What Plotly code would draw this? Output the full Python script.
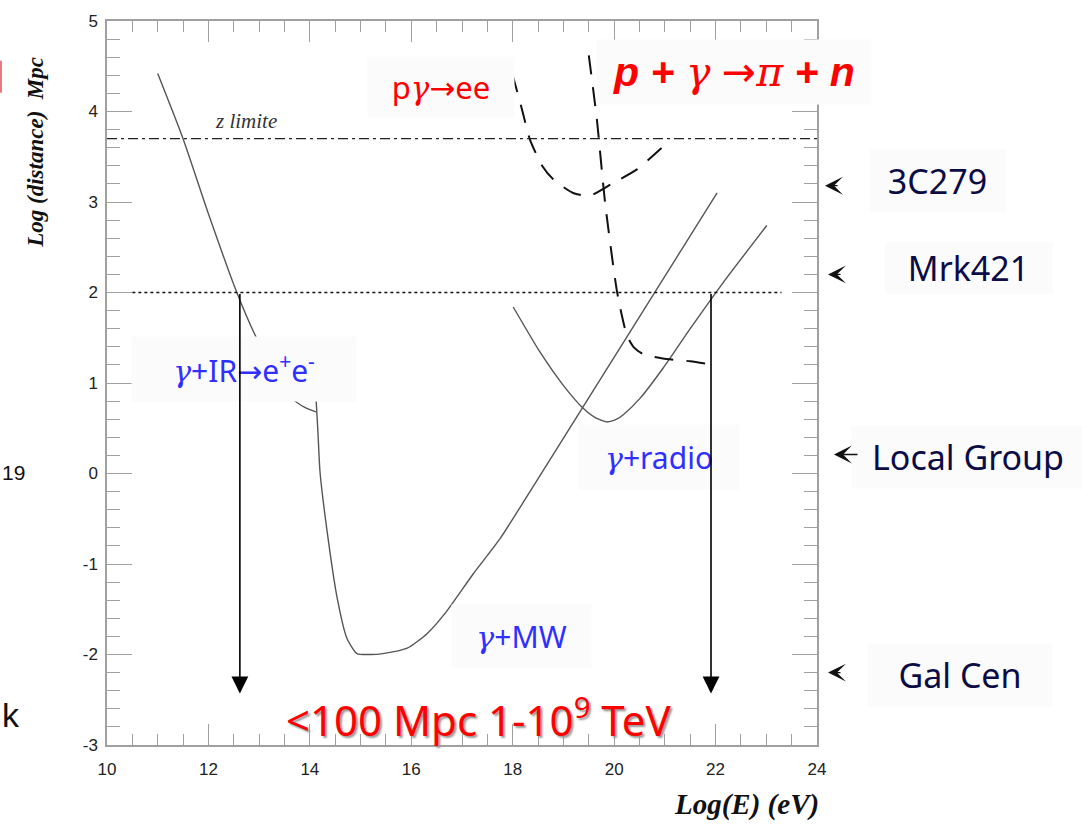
import plotly.graph_objects as go

# --- attenuation curves: log10(E/eV) vs log10(distance/Mpc) ---
ir_x = [11.0, 11.5, 12.0, 12.56, 12.92, 13.3, 13.65, 13.9, 14.12]
ir_y = [4.42, 3.70, 2.87, 2.0, 1.53, 1.13, 0.83, 0.73, 0.68]

mw_x = [14.12, 14.16, 14.20, 14.36, 14.54, 14.73, 14.93, 15.2, 15.44, 15.92, 16.31, 16.70, 17.22, 17.75, 18.34, 22.03]
mw_y = [0.85, 0.45, 0.02, -0.72, -1.38, -1.82, -1.99, -2.0, -1.99, -1.93, -1.77, -1.52, -1.11, -0.72, -0.20, 3.10]

radio_x = [18.01, 18.54, 18.99, 19.39, 19.62, 19.86, 20.05, 20.18, 20.51, 20.96, 21.50, 22.15, 23.01]
radio_y = [1.84, 1.34, 0.98, 0.72, 0.62, 0.57, 0.60, 0.65, 0.83, 1.16, 1.60, 2.11, 2.74]

ee_x = [17.99, 18.17, 18.34, 18.58, 18.80, 19.19, 19.52, 19.98, 20.45, 21.04]
ee_y = [4.42, 4.05, 3.69, 3.40, 3.25, 3.10, 3.07, 3.21, 3.36, 3.65]

pion_x = [19.50, 19.66, 19.82, 20.06, 20.25, 20.38, 20.57, 20.96, 21.50, 21.95]
pion_y = [4.62, 3.91, 3.0, 2.0, 1.53, 1.40, 1.32, 1.27, 1.24, 1.20]

z_limit = 3.7
horizon_100mpc = 2.0
horizon_x = [10.5, 23.3]
cutoff_energies = [12.62, 21.91]
arrow_bottom = -2.43

# distance markers on the right-hand side
sources = ["3C279", "Mrk421", "Local Group", "Gal Cen"]
source_logd = [3.18, 2.20, 0.21, -2.20]
source_label_logd = [3.23, 2.27, 0.18, -2.23]

x_ticks = [10, 12, 14, 16, 18, 20, 22, 24]
y_ticks = [-3, -2, -1, 0, 1, 2, 3, 4, 5]
y_tick_text = ["-3", "-2", "-1", "0", "1", "2", "3", "4", "5"]

CURVE = "#555555"
AXIS = "#a0a0a0"
RED = "#ff0000"
BLUE = "#2f2fff"
NAVY = "#0b0b45"
BOX = "#fbfbfb"
LABEL_FONT = "Noto Sans"

fig = go.Figure()

for xs, ys in [(ir_x, ir_y), (mw_x, mw_y), (radio_x, radio_y)]:
    fig.add_trace(go.Scatter(x=xs, y=ys, mode="lines", line=dict(color=CURVE, width=1.4, shape="spline", smoothing=0.6),
                             hoverinfo="skip", showlegend=False))

for xs, ys in [(ee_x, ee_y), (pion_x, pion_y)]:
    fig.add_trace(go.Scatter(x=xs, y=ys, mode="lines",
                             line=dict(color="#111111", width=2, dash="19px,13px", shape="spline", smoothing=0.6),
                             hoverinfo="skip", showlegend=False))

# redshift limit (dash-dot) and 100 Mpc horizon (dotted)
fig.add_trace(go.Scatter(x=[10, 24], y=[z_limit, z_limit], mode="lines",
                         line=dict(color="#222222", width=1.3, dash="10px,4px,3px,4px"),
                         hoverinfo="skip", showlegend=False))
fig.add_trace(go.Scatter(x=horizon_x, y=[horizon_100mpc, horizon_100mpc], mode="lines",
                         line=dict(color="#111111", width=1.5, dash="dot"),
                         hoverinfo="skip", showlegend=False))

ann = []

def label(text, x, y, size, color, w, h, family=LABEL_FONT, bg=BOX, font_extra=None, xref="x", **kw):
    font = dict(family=family, size=size, color=color)
    font.update(font_extra or {})
    ann.append(dict(text=text, x=x, y=y, xref=xref, yref="y", showarrow=False,
                    xanchor="center", yanchor="middle",
                    font=font, bgcolor=bg, width=w, height=h, align="center", valign="middle", **kw))

GREEK = "font-family:'DejaVu Serif';font-style:italic"
ARROW = "<span style=\"font-family:'DejaVu Sans'\">→</span>"

label("z limite", 12.74, 3.90, 21, "#333333", None, None,
      family="Liberation Serif", bg="rgba(0,0,0,0)", font_extra=dict(style="italic"))
label("p<span style=\"%s\">γ</span>%see" % (GREEK, ARROW), 16.58, 4.27, 31, RED, 144, 58)
label("<b><i>p + </i></b><span style=\"%s\">γ</span> %s<span style=\"%s\">π</span><b><i> + n</i></b>" % (GREEK, ARROW, GREEK),
      22.36, 4.44, 41, RED, 272, 62, family="Liberation Sans")
label("<span style=\"%s\">γ</span>+IR%se<sup>+</sup>e<sup>-</sup>" % (GREEK, ARROW), 12.70, 1.16, 30, BLUE, 222, 62)
label("<span style=\"%s\">γ</span>+radio" % GREEK, 20.88, 0.18, 30, BLUE, 158, 62)
label("<span style=\"%s\">γ</span>+MW" % GREEK, 18.18, -1.80, 30, BLUE, 137, 60)
label("&lt;100 Mpc 1-10<sup>9</sup> TeV", 17.32, -2.70, 42, RED, None, None, bg="rgba(0,0,0,0)",
      font_extra=dict(shadow="2px 2px 2px #9a9a9a"))

# right-hand distance scale labels (x in paper units, outside the plot)
src_label_x = [1.1704, 1.2127, 1.2127, 1.2014]
src_box = [(133, 60), (165, 50), (230, 60), (182, 60)]
for name, lx, ly, (bw, bh) in zip(sources, src_label_x, source_label_logd, src_box):
    label(name, lx, ly, 34, NAVY, bw, bh, xref="paper")

# arrowheads pointing at the distance scale
src_tip_x = [1.0113, 1.0155, 1.0239, 1.0155]
for name, tx, ly in zip(sources, src_tip_x, source_logd):
    tail_px = 25 if name == "Local Group" else 14
    ann.append(dict(x=tx, y=ly, ax=tail_px, ay=0, xref="paper", yref="y",
                    text="", showarrow=True, arrowhead=3, arrowsize=2.3, arrowwidth=1.3,
                    arrowcolor="#111111"))

# energy cut-offs at 100 Mpc
for ex in cutoff_energies:
    ann.append(dict(x=ex, y=arrow_bottom, ax=ex, ay=horizon_100mpc, xref="x", yref="y",
                    axref="x", ayref="y", text="", showarrow=True, arrowhead=2,
                    arrowsize=2.1, arrowwidth=1.6, arrowcolor="#000000"))

# axis titles and clipped fragments at the left edge
ann.append(dict(text="<b><i>Log (distance)  Mpc</i></b>", xref="paper", yref="paper",
                x=-0.1000, y=0.818, xanchor="center", yanchor="middle", textangle=-90, showarrow=False,
                font=dict(family="Liberation Serif", size=23, color="#111111")))
ann.append(dict(text="<b><i>Log(E) (eV)</i></b>", xref="paper", yref="paper",
                x=1.005, y=-0.082, xanchor="right", yanchor="middle", showarrow=False,
                font=dict(family="Liberation Serif", size=29, color="#111111")))
ann.append(dict(text="19", xref="paper", yref="paper", x=-0.1507, y=0.376, xanchor="left", yanchor="middle",
                showarrow=False, font=dict(family="Liberation Sans", size=21, color="#111111")))
ann.append(dict(text="k", xref="paper", yref="paper", x=-0.1507, y=0.042, xanchor="left", yanchor="middle",
                showarrow=False, font=dict(family="Liberation Sans", size=34, color="#111111")))

fig.update_layout(
    width=1082, height=825,
    margin=dict(l=107, r=265, t=18, b=80, pad=0),
    paper_bgcolor="white", plot_bgcolor="white",
    annotations=ann,
    shapes=[dict(type="rect", xref="paper", yref="paper", x0=-0.1507, x1=-0.1479,
                 y0=0.901, y1=0.945, fillcolor="#ee7777", line=dict(width=0))],
)

tickfont = dict(family="Liberation Sans", size=17, color="#222222")
fig.update_xaxes(range=[10, 24], tickvals=x_ticks, ticks="inside", ticklen=21, tickwidth=1.2,
                 tickcolor=AXIS, showline=True, linecolor=AXIS, linewidth=1.5, mirror="ticks",
                 showgrid=False, zeroline=False, tickfont=tickfont, ticklabelstandoff=8,
                 minor=dict(dtick=0.5, ticks="inside", ticklen=11, tickcolor=AXIS, tickwidth=1.2, showgrid=False))
fig.update_yaxes(range=[-3, 5], tickvals=y_ticks, ticktext=y_tick_text, ticks="inside", ticklen=25, tickwidth=1.2,
                 tickcolor=AXIS, showline=True, linecolor=AXIS, linewidth=1.5, mirror="ticks",
                 showgrid=False, zeroline=False, tickfont=tickfont, ticklabelstandoff=4,
                 minor=dict(dtick=0.2, ticks="inside", ticklen=13, tickcolor=AXIS, tickwidth=1.2, showgrid=False))

fig.write_html("out.html")
